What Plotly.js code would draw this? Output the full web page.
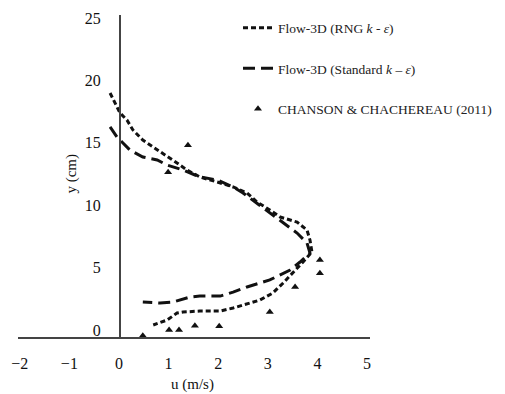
<!DOCTYPE html>
<html>
<head>
<meta charset="utf-8">
<script src="https://cdn.plot.ly/plotly-3.0.1.min.js"></script>
<style>html,body{margin:0;padding:0;background:#fff;}#chart{width:505px;height:394px;}</style>
</head>
<body>
<div id="chart"></div>
<script>
// Flow-3D (RNG k-e) profile
var rngU = [-0.18, -0.08, 0.02, 0.16, 0.28, 0.48, 0.69, 0.89, 1.17, 1.37, 1.63, 1.98, 2.30, 2.58, 2.78, 3.04, 3.25, 3.59, 3.79, 3.85, 3.89, 3.71, 3.51, 3.31, 3.10, 2.84, 2.64, 2.30, 2.04, 1.63, 1.29, 1.17, 0.97, 0.69];
var rngY = [18.99, 18.19, 17.39, 16.83, 16.03, 15.22, 14.66, 14.18, 13.38, 12.82, 12.26, 11.86, 11.46, 10.98, 10.26, 9.62, 9.05, 8.65, 8.01, 7.21, 6.25, 5.45, 4.57, 3.77, 2.96, 2.40, 2.16, 1.76, 1.52, 1.52, 1.44, 1.36, 0.80, 0.40];
// Flow-3D (Standard k-e) profile
var stdU = [-0.18, -0.04, 0.06, 0.22, 0.48, 0.77, 0.97, 1.29, 1.63, 1.98, 2.30, 2.50, 2.80, 3.10, 3.31, 3.59, 3.79, 3.85, 3.65, 3.45, 3.04, 2.84, 2.58, 2.30, 2.04, 1.63, 1.43, 1.09, 0.83, 0.48];
var stdY = [16.27, 15.46, 15.06, 14.42, 13.86, 13.62, 13.22, 12.82, 12.26, 12.02, 11.46, 10.98, 10.10, 9.21, 8.65, 7.77, 6.97, 6.17, 5.45, 4.81, 4.01, 3.77, 3.45, 3.04, 2.72, 2.72, 2.64, 2.24, 2.16, 2.24];
// Chanson & Chachereau (2011) measurements
var expU = [0.48, 1.01, 1.21, 1.53, 2.02, 3.04, 3.55, 4.05, 4.05, 0.99, 1.39];
var expY = [-0.45, 0.00, 0.00, 0.35, 0.30, 1.45, 3.45, 4.55, 5.60, 12.65, 14.80];
// Axis ticks
var xTicks = [-2, -1, 0, 1, 2, 3, 4, 5];
var yTicks = [0, 5, 10, 15, 20, 25];
var seriesNames = ['Flow-3D (RNG <i>k</i> - <i>ε</i>)', 'Flow-3D (Standard <i>k</i> – <i>ε</i>)', 'CHANSON &amp; CHACHEREAU (2011)'];

var FONT = 'Liberation Serif, Times New Roman, serif';
var traces = [
  {x: rngU, y: rngY, name: seriesNames[0], mode: 'lines', legendgroup: 'a',
   line: {color: '#111', width: 3, dash: '5px,3px'}},
  {x: stdU, y: stdY, name: seriesNames[1], mode: 'lines', legendgroup: 'b',
   line: {color: '#111', width: 3, dash: '12px,6px'}},
  {x: expU, y: expY, name: seriesNames[2], mode: 'markers', legendgroup: 'c',
   marker: {symbol: 'triangle-up', size: 7, color: '#111'}}
];
var layout = {
  width: 505, height: 394,
  margin: {l: 18, r: 135, t: 15, b: 57, autoexpand: false},
  paper_bgcolor: '#fff', plot_bgcolor: '#fff',
  font: {family: FONT, color: '#111'},
  showlegend: true,
  legend: {x: 0.625, y: 1.008, xanchor: 'left', yanchor: 'top', bgcolor: 'rgba(0,0,0,0)',
    font: {family: FONT, size: 13.5, color: '#222'}, tracegroupgap: 20, itemwidth: 30},
  xaxis: {range: [-2.036, 5.06], tickvals: xTicks, showgrid: false, zeroline: false,
    showline: true, linecolor: '#444', linewidth: 1.6, ticks: '',
    ticklabelstandoff: 11, tickfont: {family: FONT, size: 16, color: '#111'}},
  yaxis: {range: [-0.56, 25.24], tickvals: yTicks, showgrid: false, zeroline: false,
    anchor: 'free', position: 0.287, showline: true, linecolor: '#444', linewidth: 1.6,
    ticks: '', ticklabelstandoff: 15, tickfont: {family: FONT, size: 16, color: '#111'}},
  annotations: [
    {text: 'u (m/s)', xref: 'paper', yref: 'paper', x: 0.497, y: -0.18, showarrow: false,
     font: {family: FONT, size: 15, color: '#111'}},
    {text: 'y (cm)', xref: 'paper', yref: 'paper', x: 0.122, y: 0.509, showarrow: false,
     textangle: -90, font: {family: FONT, size: 15, color: '#111'}}
  ]
};
Plotly.newPlot('chart', traces, layout, {displayModeBar: false, staticPlot: true});
</script>
</body>
</html>
